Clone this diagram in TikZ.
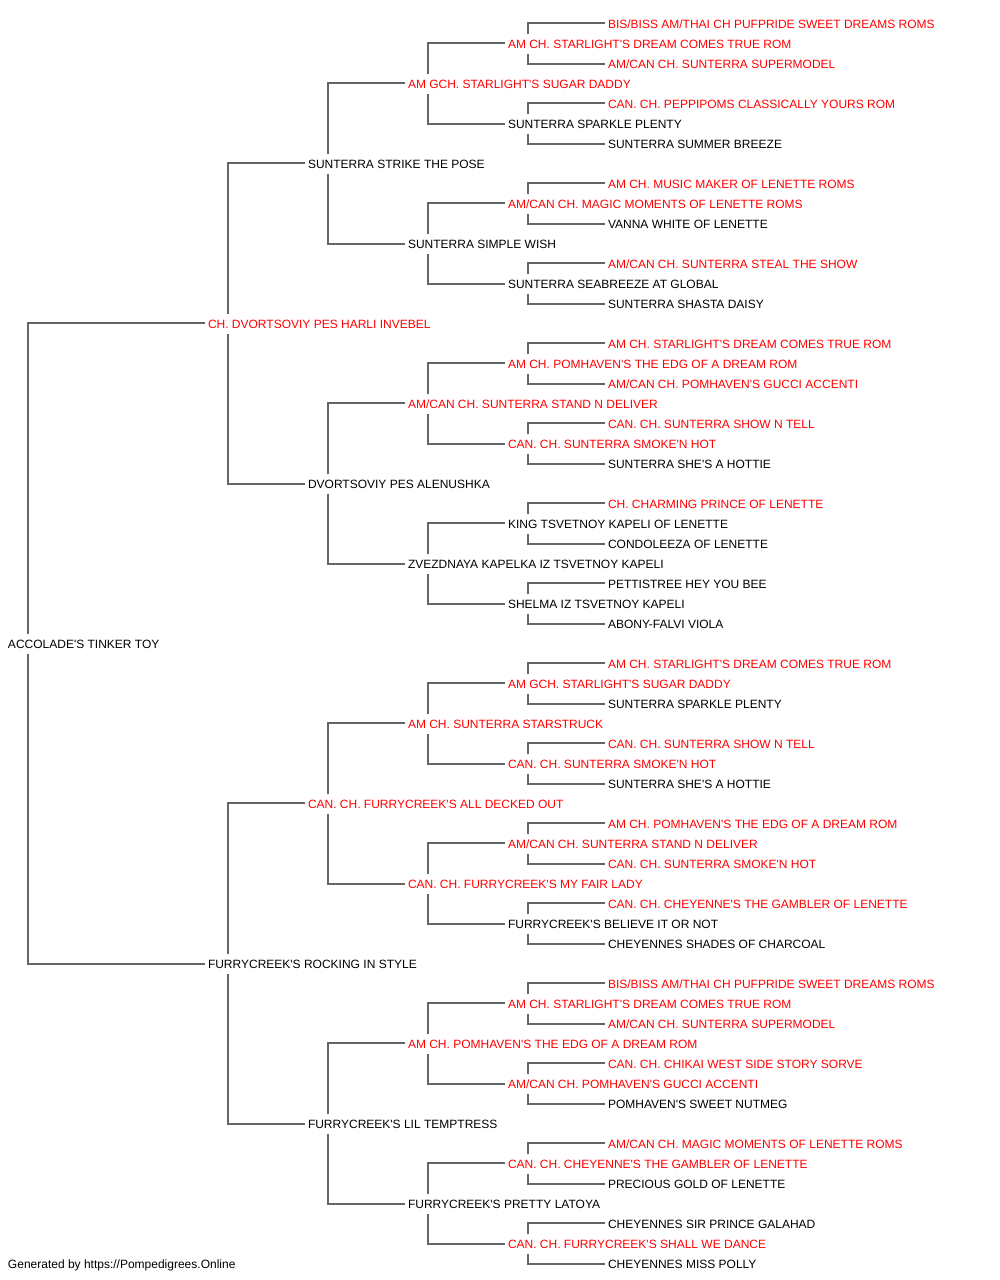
\documentclass[tikz,border=0pt]{standalone}
\usepackage{fontspec}
\setmainfont{Liberation Sans}[Ligatures=TeXOff]
\definecolor{pedred}{HTML}{FF0000}
\definecolor{pedline}{HTML}{666666}
\tikzset{
  nm/.style={anchor=west, inner xsep=0pt, inner ysep=0pt, outer sep=0pt,
    text height=14.3pt, text depth=5.7pt, font=\fontsize{12}{14}\selectfont, text=black},
  rn/.style={nm, text=pedred},
  link/.style={draw=pedline, line width=2pt}
}
\begin{document}
\begin{tikzpicture}[x=1pt,y=-1pt]
\useasboundingbox (0,0) rectangle (1000,1280);
\begin{scope}[shift={(0,0.8)}]
% generation 0
\node[nm] (n31) at (8,643.5) {ACCOLADE'S TINKER TOY};
% generation 1
\node[rn] (n15) at (208,323.5) {CH. DVORTSOVIY PES HARLI INVEBEL};
\node[nm] (n47) at (208,963.5) {FURRYCREEK'S ROCKING IN STYLE};
% generation 2
\node[nm] (n7)  at (308,163.5) {SUNTERRA STRIKE THE POSE};
\node[nm] (n23) at (308,483.5) {DVORTSOVIY PES ALENUSHKA};
\node[rn] (n39) at (308,803.5) {CAN. CH. FURRYCREEK'S ALL DECKED OUT};
\node[nm] (n55) at (308,1123.5) {FURRYCREEK'S LIL TEMPTRESS};
% generation 3
\node[rn] (n3)  at (408,83.5)  {AM GCH. STARLIGHT'S SUGAR DADDY};
\node[nm] (n11) at (408,243.5) {SUNTERRA SIMPLE WISH};
\node[rn] (n19) at (408,403.5) {AM/CAN CH. SUNTERRA STAND N DELIVER};
\node[nm] (n27) at (408,563.5) {ZVEZDNAYA KAPELKA IZ TSVETNOY KAPELI};
\node[rn] (n35) at (408,723.5) {AM CH. SUNTERRA STARSTRUCK};
\node[rn] (n43) at (408,883.5) {CAN. CH. FURRYCREEK'S MY FAIR LADY};
\node[rn] (n51) at (408,1043.5) {AM CH. POMHAVEN'S THE EDG OF A DREAM ROM};
\node[nm] (n59) at (408,1203.5) {FURRYCREEK'S PRETTY LATOYA};
% generation 4
\node[rn] (n1)  at (508,43.5)  {AM CH. STARLIGHT'S DREAM COMES TRUE ROM};
\node[nm] (n5)  at (508,123.5) {SUNTERRA SPARKLE PLENTY};
\node[rn] (n9)  at (508,203.5) {AM/CAN CH. MAGIC MOMENTS OF LENETTE ROMS};
\node[nm] (n13) at (508,283.5) {SUNTERRA SEABREEZE AT GLOBAL};
\node[rn] (n17) at (508,363.5) {AM CH. POMHAVEN'S THE EDG OF A DREAM ROM};
\node[rn] (n21) at (508,443.5) {CAN. CH. SUNTERRA SMOKE'N HOT};
\node[nm] (n25) at (508,523.5) {KING TSVETNOY KAPELI OF LENETTE};
\node[nm] (n29) at (508,603.5) {SHELMA IZ TSVETNOY KAPELI};
\node[rn] (n33) at (508,683.5) {AM GCH. STARLIGHT'S SUGAR DADDY};
\node[rn] (n37) at (508,763.5) {CAN. CH. SUNTERRA SMOKE'N HOT};
\node[rn] (n41) at (508,843.5) {AM/CAN CH. SUNTERRA STAND N DELIVER};
\node[nm] (n45) at (508,923.5) {FURRYCREEK'S BELIEVE IT OR NOT};
\node[rn] (n49) at (508,1003.5) {AM CH. STARLIGHT'S DREAM COMES TRUE ROM};
\node[rn] (n53) at (508,1083.5) {AM/CAN CH. POMHAVEN'S GUCCI ACCENTI};
\node[rn] (n57) at (508,1163.5) {CAN. CH. CHEYENNE'S THE GAMBLER OF LENETTE};
\node[rn] (n61) at (508,1243.5) {CAN. CH. FURRYCREEK'S SHALL WE DANCE};
% generation 5
\node[rn] (n0)  at (608,23.5)  {BIS/BISS AM/THAI CH PUFPRIDE SWEET DREAMS ROMS};
\node[rn] (n2)  at (608,63.5)  {AM/CAN CH. SUNTERRA SUPERMODEL};
\node[rn] (n4)  at (608,103.5) {CAN. CH. PEPPIPOMS CLASSICALLY YOURS ROM};
\node[nm] (n6)  at (608,143.5) {SUNTERRA SUMMER BREEZE};
\node[rn] (n8)  at (608,183.5) {AM CH. MUSIC MAKER OF LENETTE ROMS};
\node[nm] (n10) at (608,223.5) {VANNA WHITE OF LENETTE};
\node[rn] (n12) at (608,263.5) {AM/CAN CH. SUNTERRA STEAL THE SHOW};
\node[nm] (n14) at (608,303.5) {SUNTERRA SHASTA DAISY};
\node[rn] (n16) at (608,343.5) {AM CH. STARLIGHT'S DREAM COMES TRUE ROM};
\node[rn] (n18) at (608,383.5) {AM/CAN CH. POMHAVEN'S GUCCI ACCENTI};
\node[rn] (n20) at (608,423.5) {CAN. CH. SUNTERRA SHOW N TELL};
\node[nm] (n22) at (608,463.5) {SUNTERRA SHE'S A HOTTIE};
\node[rn] (n24) at (608,503.5) {CH. CHARMING PRINCE OF LENETTE};
\node[nm] (n26) at (608,543.5) {CONDOLEEZA OF LENETTE};
\node[nm] (n28) at (608,583.5) {PETTISTREE HEY YOU BEE};
\node[nm] (n30) at (608,623.5) {ABONY-FALVI VIOLA};
\node[rn] (n32) at (608,663.5) {AM CH. STARLIGHT'S DREAM COMES TRUE ROM};
\node[nm] (n34) at (608,703.5) {SUNTERRA SPARKLE PLENTY};
\node[rn] (n36) at (608,743.5) {CAN. CH. SUNTERRA SHOW N TELL};
\node[nm] (n38) at (608,783.5) {SUNTERRA SHE'S A HOTTIE};
\node[rn] (n40) at (608,823.5) {AM CH. POMHAVEN'S THE EDG OF A DREAM ROM};
\node[rn] (n42) at (608,863.5) {CAN. CH. SUNTERRA SMOKE'N HOT};
\node[rn] (n44) at (608,903.5) {CAN. CH. CHEYENNE'S THE GAMBLER OF LENETTE};
\node[nm] (n46) at (608,943.5) {CHEYENNES SHADES OF CHARCOAL};
\node[rn] (n48) at (608,983.5) {BIS/BISS AM/THAI CH PUFPRIDE SWEET DREAMS ROMS};
\node[rn] (n50) at (608,1023.5) {AM/CAN CH. SUNTERRA SUPERMODEL};
\node[rn] (n52) at (608,1063.5) {CAN. CH. CHIKAI WEST SIDE STORY SORVE};
\node[nm] (n54) at (608,1103.5) {POMHAVEN'S SWEET NUTMEG};
\node[rn] (n56) at (608,1143.5) {AM/CAN CH. MAGIC MOMENTS OF LENETTE ROMS};
\node[nm] (n58) at (608,1183.5) {PRECIOUS GOLD OF LENETTE};
\node[nm] (n60) at (608,1223.5) {CHEYENNES SIR PRINCE GALAHAD};
\node[nm] (n62) at (608,1263.5) {CHEYENNES MISS POLLY};
% footer
\node[nm] (foot) at (8,1263.5) {Generated by https://Pompedigrees.Online};
% connectors
\foreach \p/\a/\b in {31/15/47, 15/7/23, 47/39/55,
  7/3/11, 23/19/27, 39/35/43, 55/51/59,
  3/1/5, 11/9/13, 19/17/21, 27/25/29, 35/33/37, 43/41/45, 51/49/53, 59/57/61,
  1/0/2, 5/4/6, 9/8/10, 13/12/14, 17/16/18, 21/20/22, 25/24/26, 29/28/30,
  33/32/34, 37/36/38, 41/40/42, 45/44/46, 49/48/50, 53/52/54, 57/56/58, 61/60/62}{
  \draw[link] ([xshift=20pt]n\p.north west) |- ([xshift=-3pt,yshift=1pt]n\a.west);
  \draw[link] ([xshift=20pt]n\p.south west) |- ([xshift=-3pt]n\b.west);
}
\end{scope}
\end{tikzpicture}
\end{document}
